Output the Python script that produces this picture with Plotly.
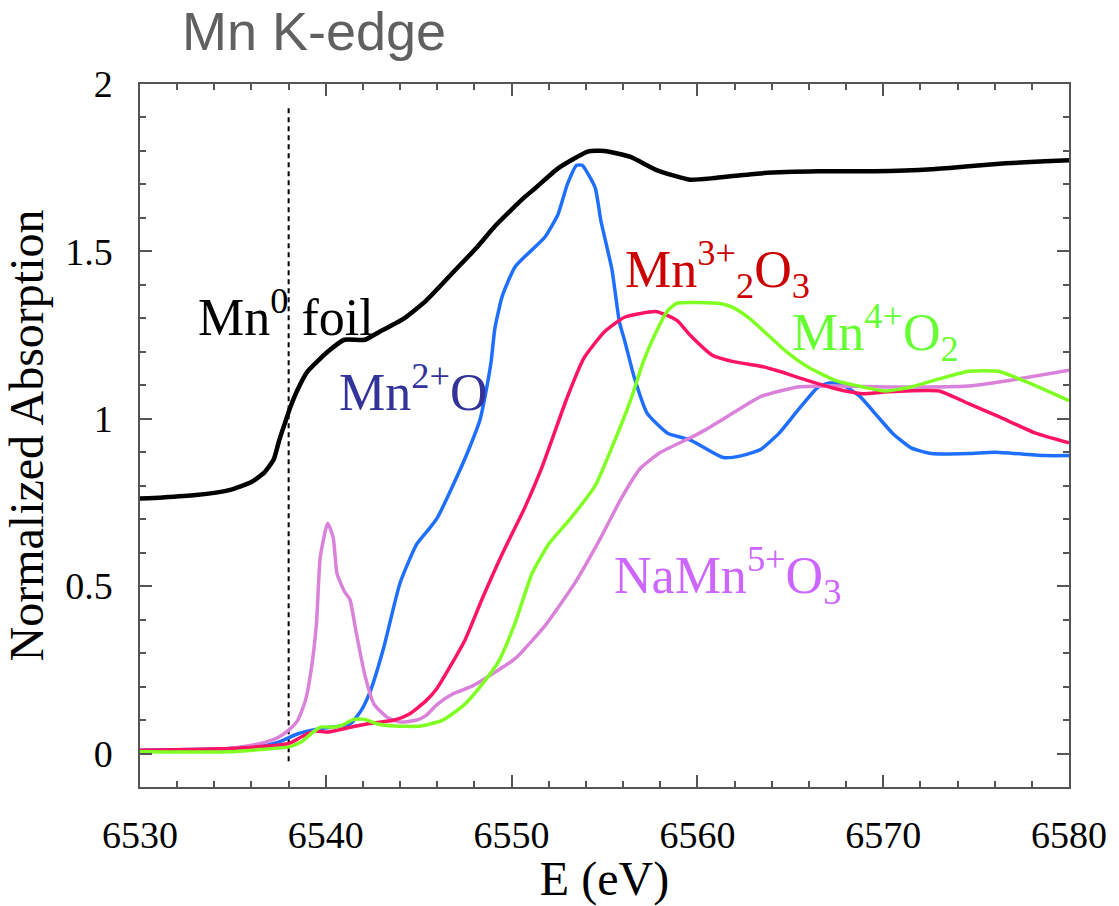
import plotly.graph_objects as go

# ---------------- data ----------------
foil_x = [6530, 6531.2, 6533, 6534.8, 6536, 6536.7, 6537.2, 6537.5, 6537.8, 6538.1, 6538.5, 6539.0,
          6540.1, 6541.0, 6542.1, 6542.9, 6544.2, 6545.4, 6547.0, 6548.1, 6549.1, 6550.0, 6550.7,
          6551.3, 6552.5, 6554.1, 6555.0, 6556.4, 6557.8, 6559.6, 6560.9, 6561.9, 6563.4, 6566.5,
          6569.5, 6572.6, 6574.6, 6576.6, 6578.7, 6580]
foil_y = [0.762, 0.765, 0.772, 0.787, 0.811, 0.84, 0.879, 0.937, 0.987, 1.036, 1.089, 1.14,
          1.20, 1.236, 1.236, 1.26, 1.299, 1.353, 1.446, 1.51, 1.575, 1.625, 1.662,
          1.69, 1.748, 1.798, 1.80, 1.782, 1.743, 1.714, 1.719, 1.725, 1.733, 1.739,
          1.739, 1.745, 1.754, 1.763, 1.769, 1.772]

mno_x = [6530, 6533, 6535, 6536.5, 6537.5, 6538.5, 6539.6, 6540.5, 6541.3, 6541.9, 6542.4, 6543.1,
         6544.0, 6544.9, 6545.6, 6546.0, 6547.0, 6547.7, 6548.3, 6548.6, 6548.9, 6549.1, 6549.5,
         6550.2, 6551.8, 6552.5, 6553.0, 6553.5, 6553.8, 6554.5, 6554.8, 6555.4, 6555.8, 6556.1,
         6556.6, 6557.3, 6558.4, 6559.6, 6561.4, 6562.4, 6563.4, 6564.4, 6565.4, 6566.5, 6567.1,
         6567.7, 6568.7, 6569.7, 6570.5, 6571.5, 6572.6, 6574.6, 6576, 6578.7, 6580]
mno_y = [0.01, 0.012, 0.015, 0.022, 0.035, 0.059, 0.073, 0.08, 0.088, 0.128, 0.187, 0.313,
         0.51, 0.626, 0.674, 0.704, 0.82, 0.909, 0.997, 1.075, 1.172, 1.27, 1.367,
         1.455, 1.543, 1.611, 1.70, 1.757, 1.757, 1.69, 1.593, 1.446, 1.29, 1.23,
         1.124, 1.016, 0.957, 0.937, 0.884, 0.89, 0.908, 0.957, 1.025, 1.095, 1.107,
         1.104, 1.069, 1.007, 0.957, 0.913, 0.896, 0.896, 0.90, 0.89, 0.89]

mn2o3_x = [6530, 6534.8, 6538, 6538.7, 6539.4, 6540.1, 6541.2, 6542.2, 6543.7, 6544.5, 6545.4,
           6546.0, 6547.5, 6548.4, 6549.5, 6550.7, 6551.6, 6552.3, 6553.0, 6553.9, 6555.0,
           6556.1, 6557.8, 6558.9, 6559.6, 6560.8, 6562, 6563.4, 6564.4, 6566, 6567.5,
           6568.9, 6570.1, 6573, 6574.6, 6576.2, 6578.2, 6580]
mn2o3_y = [0.01, 0.015, 0.03, 0.05, 0.067, 0.064, 0.077, 0.088, 0.10, 0.118, 0.158,
           0.196, 0.34, 0.46, 0.597, 0.733, 0.85, 0.957, 1.065, 1.182, 1.26,
           1.304, 1.32, 1.294, 1.25, 1.19, 1.17, 1.157, 1.142, 1.113, 1.089,
           1.075, 1.08, 1.083, 1.045, 1.007, 0.957, 0.928]

mno2_x = [6530, 6534.8, 6536.5, 6538, 6538.7, 6539.2, 6539.7, 6540.5, 6541.0, 6541.5, 6542.1,
          6542.8, 6543.7, 6545.1, 6546.3, 6547.4, 6548.4, 6549.3, 6550.2, 6551.1, 6552.0,
          6553.2, 6554.5, 6555.5, 6556.4, 6557.1, 6557.7, 6558.4, 6558.9, 6561.2, 6561.9, 6562.8,
          6564.8, 6566, 6567.5, 6568.9, 6570.1, 6571.5, 6573, 6574.6, 6576.2, 6577.6, 6580]
mno2_y = [0.005, 0.005, 0.012, 0.02, 0.035, 0.059, 0.079, 0.079, 0.088, 0.102, 0.102,
          0.088, 0.082, 0.082, 0.10, 0.143, 0.206, 0.275, 0.392, 0.538, 0.626,
          0.704, 0.80, 0.928, 1.055, 1.172, 1.25, 1.323, 1.345, 1.344, 1.333, 1.30,
          1.20, 1.153, 1.113, 1.095, 1.083, 1.095, 1.119, 1.142, 1.142, 1.113, 1.054]

namno3_x = [6530, 6534.8, 6536.5, 6537.4, 6538, 6538.5, 6538.9, 6539.2, 6539.5, 6539.7, 6540.1,
            6540.4, 6540.6, 6541.0, 6541.3, 6541.6, 6542.1, 6542.6, 6543.3, 6544.0, 6544.9,
            6545.4, 6546.0, 6546.8, 6547.9, 6548.6, 6550.2, 6551.8, 6553.4, 6554.8, 6555.9,
            6556.9, 6558.0, 6559.8, 6560.4, 6562, 6563.4, 6565.4, 6567.5, 6570.5, 6574.6,
            6576.6, 6580]
namno3_y = [0.005, 0.015, 0.03, 0.047, 0.07, 0.10, 0.158, 0.245, 0.39, 0.586, 0.688,
            0.645, 0.538, 0.484, 0.46, 0.372, 0.235, 0.147, 0.108, 0.094, 0.10,
            0.114, 0.147, 0.177, 0.202, 0.225, 0.284, 0.382, 0.509, 0.645, 0.762,
            0.85, 0.899, 0.948, 0.966, 1.02, 1.066, 1.095, 1.098, 1.095, 1.098,
            1.113, 1.145]

edge_x = [6538.0, 6538.0]
edge_y = [-0.023, 1.933]

x_ticks = [6530, 6540, 6550, 6560, 6570, 6580]
x_ticktext = ["6530", "6540", "6550", "6560", "6570", "6580"]
y_ticks = [0, 0.5, 1, 1.5, 2]
y_ticktext = ["0", "0.5", "1", "1.5", "2"]

SERIF = "Liberation Serif"
SANS = "Liberation Sans"
AXC = "#555555"

fig = go.Figure()
fig.add_trace(go.Scatter(x=edge_x, y=edge_y, mode="lines",
                         line=dict(color="black", width=2, dash="5px,4px")))
fig.add_trace(go.Scatter(x=foil_x, y=foil_y, mode="lines",
                         line=dict(color="black", width=4.5, shape="spline", smoothing=0.5)))
fig.add_trace(go.Scatter(x=mno_x, y=mno_y, mode="lines",
                         line=dict(color="#1f6fff", width=3.5, shape="spline", smoothing=0.5)))
fig.add_trace(go.Scatter(x=namno3_x, y=namno3_y, mode="lines",
                         line=dict(color="#da82da", width=3.5, shape="spline", smoothing=0.5)))
fig.add_trace(go.Scatter(x=mn2o3_x, y=mn2o3_y, mode="lines",
                         line=dict(color="#ff1464", width=3.5, shape="spline", smoothing=0.5)))
fig.add_trace(go.Scatter(x=mno2_x, y=mno2_y, mode="lines",
                         line=dict(color="#7fff22", width=3.5, shape="spline", smoothing=0.5)))

ann_font = 52
labels = [
    ("Mn<sup>0</sup> foil", 6537.85, 1.315, "black"),
    ("Mn<sup>2+</sup>O", 6544.7, 1.089, "#333399"),
    ("Mn<sup>3+</sup><sub>2</sub>O<sub>3</sub>", 6561.1, 1.445, "#cc0000"),
    ("Mn<sup>4+</sup>O<sub>2</sub>", 6569.6, 1.258, "#66ff33"),
    ("NaMn<sup>5+</sup>O<sub>3</sub>", 6561.6, 0.533, "#cc66ff"),
]
annotations = []
for txt, ax, ay, col in labels:
    annotations.append(dict(text=txt, x=ax, y=ay, xref="x", yref="y", showarrow=False,
                            xanchor="center", yanchor="middle",
                            font=dict(family=SERIF, size=ann_font, color=col)))
annotations.append(dict(text="Mn K-edge", x=0.043, y=1.075, xref="paper", yref="paper",
                        showarrow=False, xanchor="left", yanchor="middle",
                        font=dict(family=SANS, size=54, color="#606060")))

tick_font = dict(family=SERIF, size=38, color="black")

fig.update_layout(
    width=1119, height=906,
    font=dict(family=SERIF, size=38, color="black"),
    margin=dict(l=140, r=39, t=84, b=104),
    paper_bgcolor="white", plot_bgcolor="white",
    showlegend=False,
    annotations=annotations,
    xaxis=dict(range=[6530, 6580], tickmode="array", tickvals=x_ticks,
               ticktext=x_ticktext, tickfont=tick_font,
               showgrid=False, zeroline=False, showline=True, linecolor=AXC, linewidth=1.5,
               mirror="allticks", ticks="inside", ticklen=12, tickwidth=1.5, tickcolor=AXC,
               minor=dict(dtick=2, tick0=6530, ticks="inside", ticklen=6, tickwidth=1.5, tickcolor=AXC),
               ticklabelstandoff=14,
               title=dict(text="E (eV)", font=dict(family=SERIF, size=48, color="black"), standoff=4)),
    yaxis=dict(range=[-0.1, 2], tickmode="array", tickvals=y_ticks, ticktext=y_ticktext,
               tickfont=tick_font,
               showgrid=False, zeroline=False, showline=True, linecolor=AXC, linewidth=1.5,
               mirror="allticks", ticks="inside", ticklen=12, tickwidth=1.5, tickcolor=AXC,
               minor=dict(dtick=0.1, tick0=0, ticks="inside", ticklen=6, tickwidth=1.5, tickcolor=AXC),
               ticklabelstandoff=18,
               title=dict(text="Normalized Absorption", font=dict(family=SERIF, size=48, color="black"),
                          standoff=8)),
)

fig.write_html("out.html")
